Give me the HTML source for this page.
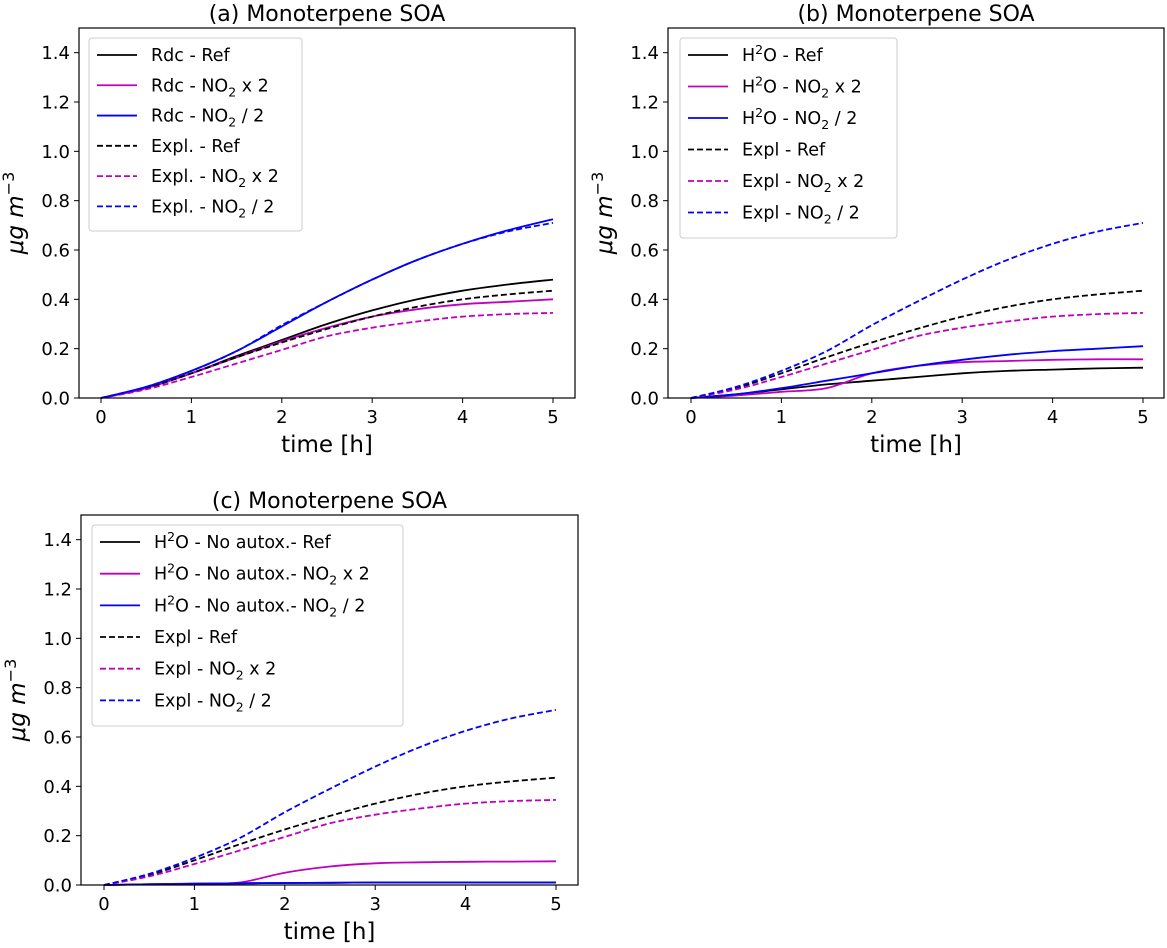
<!DOCTYPE html>
<html><head><meta charset="utf-8"><style>
body{margin:0;background:#fff;}
svg{font-family:"DejaVu Sans","Liberation Sans",sans-serif;}
</style></head><body>
<svg id="chart" width="1167" height="943" xmlns="http://www.w3.org/2000/svg"></svg>
<script>
const times=[0,0.5,1,1.5,2,2.5,3,3.5,4,4.5,5];
const yTicks=[0,0.2,0.4,0.6,0.8,1.0,1.2,1.4];
const xTicks=[0,1,2,3,4,5];
const aRdcRef=[0,0.04,0.10,0.17,0.235,0.30,0.355,0.40,0.435,0.46,0.48];
const aRdcX2=[0,0.04,0.10,0.165,0.23,0.285,0.33,0.36,0.38,0.39,0.40];
const aRdcHalf=[0,0.045,0.11,0.19,0.29,0.39,0.48,0.56,0.625,0.68,0.725];
const explRef=[0,0.04,0.10,0.165,0.225,0.28,0.33,0.37,0.40,0.42,0.435];
const explX2=[0,0.035,0.085,0.14,0.195,0.25,0.285,0.31,0.33,0.34,0.345];
const explHalf=[0,0.045,0.11,0.19,0.295,0.39,0.48,0.56,0.625,0.675,0.71];
const bH2oRef=[0,0.015,0.035,0.055,0.07,0.085,0.10,0.11,0.115,0.12,0.123];
const bH2oX2=[0,0.01,0.025,0.04,0.10,0.13,0.145,0.15,0.155,0.157,0.157];
const bH2oHalf=[0,0.015,0.04,0.07,0.10,0.13,0.155,0.175,0.19,0.20,0.21];
const cNoRef=[0,0.003,0.005,0.007,0.008,0.009,0.01,0.01,0.01,0.01,0.01];
const cNoX2=[0,0.003,0.006,0.01,0.05,0.075,0.088,0.092,0.094,0.095,0.096];
const cNoHalf=[0,0.003,0.005,0.007,0.008,0.009,0.01,0.01,0.01,0.01,0.01];

const NS="http://www.w3.org/2000/svg";
const svg=document.getElementById('chart');
function mk(tag,attrs,parent,text){const e=document.createElementNS(NS,tag);for(const k in attrs)e.setAttribute(k,attrs[k]);if(text!==undefined)e.textContent=text;(parent||svg).appendChild(e);return e;}

const panels=[
 {id:'a',title:'(a) Monoterpene SOA',L:79,R:575,T:28,B:398,x0:101,x5:553,
  leg:{x:89,y:38,w:213,h:193},
  series:[[aRdcRef,'#000',0,'Rdc - Ref'],[aRdcX2,'#c000c0',0,'Rdc - NO|2| x 2'],[aRdcHalf,'#0000ff',0,'Rdc - NO|2| / 2'],
          [explRef,'#000',1,'Expl. - Ref'],[explX2,'#c000c0',1,'Expl. - NO|2| x 2'],[explHalf,'#0000ff',1,'Expl. - NO|2| / 2']]},
 {id:'b',title:'(b) Monoterpene SOA',L:668,R:1164,T:28,B:398,x0:691,x5:1143,
  leg:{x:680,y:38,w:217,h:200},
  series:[[bH2oRef,'#000',0,'H^2^O - Ref'],[bH2oX2,'#c000c0',0,'H^2^O - NO|2| x 2'],[bH2oHalf,'#0000ff',0,'H^2^O - NO|2| / 2'],
          [explRef,'#000',1,'Expl - Ref'],[explX2,'#c000c0',1,'Expl - NO|2| x 2'],[explHalf,'#0000ff',1,'Expl - NO|2| / 2']]},
 {id:'c',title:'(c) Monoterpene SOA',L:81,R:578,T:515,B:885,x0:104,x5:556,
  leg:{x:92,y:525,w:311,h:201},
  series:[[cNoRef,'#000',0,'H^2^O - No autox.- Ref'],[cNoX2,'#c000c0',0,'H^2^O - No autox.- NO|2| x 2'],[cNoHalf,'#0000ff',0,'H^2^O - No autox.- NO|2| / 2'],
          [explRef,'#000',1,'Expl - Ref'],[explX2,'#c000c0',1,'Expl - NO|2| x 2'],[explHalf,'#0000ff',1,'Expl - NO|2| / 2']]}
];

function richText(g,x,y,label){
  const t=mk('text',{x:x,y:y,'font-size':17.5,fill:'#000'},g);
  const parts=label.split(/(\|[^|]*\||\^[^^]*\^)/);
  parts.forEach(p=>{
    if(!p)return;
    if(p[0]==='|'){mk('tspan',{dy:5,'font-size':12.5},t,p.slice(1,-1));mk('tspan',{dy:-5},t,'\u200B');}
    else if(p[0]==='^'){mk('tspan',{dy:-7,'font-size':12.5},t,p.slice(1,-1));mk('tspan',{dy:7},t,'\u200B');}
    else mk('tspan',{},t,p);
  });
  return t;
}

function smoothPath(pts){
  let d='M'+pts[0][0]+','+pts[0][1];
  for(let i=0;i<pts.length-1;i++){
    const p0=pts[i-1]||pts[i],p1=pts[i],p2=pts[i+1],p3=pts[i+2]||p2;
    const c1x=p1[0]+(p2[0]-p0[0])/6,c1y=p1[1]+(p2[1]-p0[1])/6;
    const c2x=p2[0]-(p3[0]-p1[0])/6,c2y=p2[1]-(p3[1]-p1[1])/6;
    d+=` C${c1x.toFixed(1)},${c1y.toFixed(1)} ${c2x.toFixed(1)},${c2y.toFixed(1)} ${p2[0].toFixed(1)},${p2[1].toFixed(1)}`;
  }
  return d;
}

panels.forEach(p=>{
  const g=mk('g',{});
  
  
  const xs=v=>p.x0+(p.x5-p.x0)*v/5;
  const ys=v=>p.B-(p.B-p.T)*v/1.5;
  const title=mk('text',{x:(p.L+p.R)/2,y:p.T-7,'font-size':22,'text-anchor':'middle'},g,p.title);
  
  
  p.series.forEach((s,i)=>{
    const pts=times.map((t,j)=>[xs(t),ys(s[0][j])]);
    const l=mk('path',{d:smoothPath(pts),fill:'none',stroke:s[1],'stroke-width':1.8,'stroke-dasharray':s[2]?'6,3':'none'},g);
    
    
  });
  const frame=mk('rect',{x:p.L,y:p.T,width:p.R-p.L,height:p.B-p.T,fill:'none',stroke:'#000','stroke-width':1.2},g);
  
  
  xTicks.forEach(t=>{
    mk('line',{x1:xs(t),x2:xs(t),y1:p.B,y2:p.B+5,stroke:'#000'},g);
    const tl=mk('text',{x:xs(t),y:p.B+25,'font-size':18,'text-anchor':'middle'},g,String(t));
    
    
  });
  yTicks.forEach(t=>{
    mk('line',{x1:p.L-5,x2:p.L,y1:ys(t),y2:ys(t),stroke:'#000'},g);
    const tl=mk('text',{x:p.L-9,y:ys(t)+6.5,'font-size':18,'text-anchor':'end'},g,t.toFixed(1));
    
    
  });
  const xl=mk('text',{x:(p.L+p.R)/2,y:p.B+54,'font-size':23,'text-anchor':'middle'},g,'time [h]');
  
  
  const yx=p.L-56, yy=(p.T+p.B)/2;
  const yl=mk('text',{x:yx,y:yy,'font-size':23,'text-anchor':'middle','font-style':'italic',transform:`rotate(-90 ${yx} ${yy})`},g);
  mk('tspan',{},yl,'\u03BCg m');
  mk('tspan',{dy:-9,'font-size':16,'font-style':'normal'},yl,'\u22123');
  
  
  const lg=mk('g',{},g);
  
  
  mk('rect',{x:p.leg.x,y:p.leg.y,width:p.leg.w,height:p.leg.h,rx:3,fill:'#fff','fill-opacity':0.85,stroke:'#ccc'},lg);
  p.series.forEach((s,i)=>{
    const ey=p.leg.y+17+i*(p.leg.h-20)/6*1.05;
    const e=mk('g',{},lg);
    
    
    mk('line',{x1:p.leg.x+8,x2:p.leg.x+48,y1:ey,y2:ey,stroke:s[1],'stroke-width':1.8,'stroke-dasharray':s[2]?'6,3':'none'},e);
    richText(e,p.leg.x+62,ey+6,s[3]);
  });
});
</script>
</body></html>
